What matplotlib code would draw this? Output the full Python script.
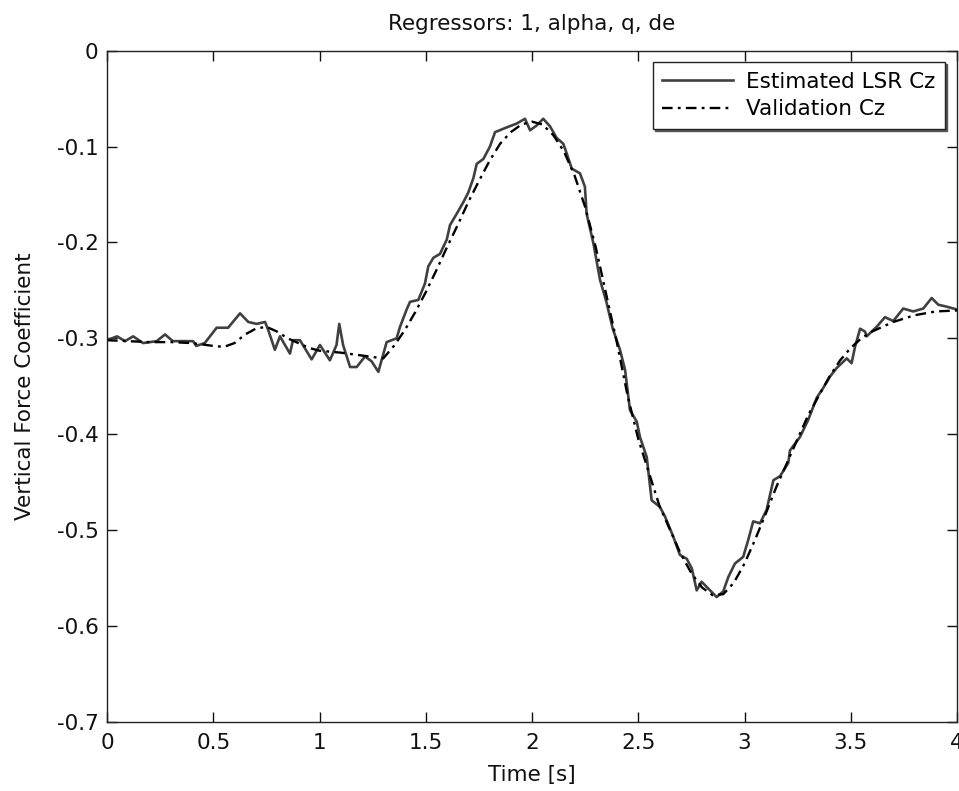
import matplotlib
matplotlib.use("Agg")
import matplotlib.pyplot as plt
import numpy as np

# estimated LSR Cz
est_t = [0.000, 0.047, 0.085, 0.123, 0.170, 0.234, 0.273, 0.310, 0.405, 0.420,
         0.460, 0.516, 0.570, 0.626, 0.665, 0.704, 0.744, 0.758, 0.790, 0.814,
         0.861, 0.875, 0.908, 0.963, 1.002, 1.049, 1.080, 1.093, 1.111, 1.144,
         1.175, 1.214, 1.245, 1.277, 1.316, 1.363, 1.379, 1.410, 1.426, 1.465,
         1.496, 1.512, 1.536, 1.567, 1.599, 1.614, 1.646, 1.677, 1.700, 1.724,
         1.740, 1.771, 1.802, 1.826, 1.881, 1.928, 1.967, 1.991, 2.022, 2.053,
         2.085, 2.116, 2.147, 2.163, 2.187, 2.226, 2.249, 2.257, 2.289, 2.320,
         2.350, 2.380, 2.414, 2.438, 2.461, 2.493, 2.508, 2.540, 2.563, 2.602,
         2.626, 2.665, 2.696, 2.728, 2.752, 2.775, 2.798, 2.838, 2.869, 2.900,
         2.924, 2.955, 2.994, 3.018, 3.041, 3.073, 3.104, 3.136, 3.167, 3.206,
         3.214, 3.261, 3.300, 3.340, 3.370, 3.402, 3.434, 3.481, 3.504, 3.520,
         3.544, 3.567, 3.575, 3.622, 3.661, 3.700, 3.747, 3.794, 3.841, 3.881,
         3.912, 3.951, 4.000]
est_cz = [-0.302, -0.298, -0.303, -0.298, -0.305, -0.303, -0.296, -0.303, -0.303, -0.308,
          -0.305, -0.289, -0.289, -0.274, -0.283, -0.285, -0.283, -0.291, -0.312, -0.298,
          -0.316, -0.302, -0.302, -0.322, -0.307, -0.323, -0.307, -0.285, -0.307, -0.330,
          -0.330, -0.319, -0.324, -0.335, -0.304, -0.300, -0.288, -0.270, -0.262, -0.260,
          -0.243, -0.225, -0.216, -0.212, -0.197, -0.182, -0.170, -0.158, -0.148, -0.133,
          -0.118, -0.113, -0.100, -0.085, -0.080, -0.076, -0.071, -0.083, -0.078, -0.071,
          -0.079, -0.091, -0.097, -0.107, -0.123, -0.128, -0.142, -0.170, -0.201, -0.239,
          -0.262, -0.290, -0.312, -0.333, -0.375, -0.387, -0.403, -0.424, -0.469, -0.476,
          -0.486, -0.507, -0.526, -0.530, -0.540, -0.563, -0.554, -0.563, -0.570, -0.564,
          -0.549, -0.535, -0.528, -0.510, -0.491, -0.493, -0.479, -0.448, -0.444, -0.430,
          -0.417, -0.403, -0.385, -0.362, -0.352, -0.340, -0.331, -0.321, -0.326, -0.309,
          -0.290, -0.293, -0.298, -0.288, -0.278, -0.282, -0.269, -0.272, -0.269, -0.258,
          -0.265, -0.267, -0.270]

# validation Cz
val_t = [0.0, 0.1, 0.2, 0.3, 0.4, 0.5, 0.55, 0.6, 0.65, 0.7, 0.75, 0.8, 0.85,
         0.9, 0.95, 1.0, 1.1, 1.2, 1.3, 1.35, 1.4, 1.45, 1.5, 1.55, 1.6, 1.65,
         1.7, 1.75, 1.8, 1.85, 1.9, 1.95, 2.0, 2.05, 2.1, 2.15, 2.2, 2.25, 2.3,
         2.35, 2.4, 2.45, 2.5, 2.55, 2.6, 2.65, 2.7, 2.75, 2.8, 2.85, 2.9, 2.95,
         3.0, 3.05, 3.1, 3.15, 3.2, 3.25, 3.3, 3.35, 3.4, 3.45, 3.5, 3.55, 3.6,
         3.7, 3.8, 3.9, 4.0]
val_cz = [-0.302, -0.303, -0.304, -0.304, -0.305, -0.308, -0.309, -0.305, -0.296,
          -0.290, -0.288, -0.293, -0.300, -0.305, -0.310, -0.313, -0.315, -0.318,
          -0.321, -0.308, -0.292, -0.273, -0.252, -0.229, -0.205, -0.182, -0.158,
          -0.136, -0.115, -0.097, -0.085, -0.077, -0.074, -0.077, -0.088, -0.105,
          -0.130, -0.163, -0.205, -0.255, -0.305, -0.360, -0.405, -0.440, -0.475,
          -0.500, -0.525, -0.545, -0.560, -0.568, -0.567, -0.555, -0.535, -0.510,
          -0.483, -0.455, -0.430, -0.405, -0.380, -0.360, -0.340, -0.323, -0.310,
          -0.300, -0.293, -0.283, -0.276, -0.272, -0.271]

x_ticks = [0, 0.5, 1, 1.5, 2, 2.5, 3, 3.5, 4]
x_labels = ["0", "0.5", "1", "1.5", "2", "2.5", "3", "3.5", "4"]
y_ticks = [0, -0.1, -0.2, -0.3, -0.4, -0.5, -0.6, -0.7]
y_labels = ["0", "-0.1", "-0.2", "-0.3", "-0.4", "-0.5", "-0.6", "-0.7"]

fontsize = 15.5
plt.rcParams["font.family"] = ["DejaVu Sans"]
plt.rcParams["font.size"] = fontsize

fig = plt.figure(figsize=(9.59, 7.91), dpi=100)
ax = fig.add_axes([107 / 959, 1 - 721.7 / 791, 850 / 959, 671 / 791])

ax.plot(est_t, est_cz, "-", color="#404040", linewidth=1.9, label="Estimated LSR Cz")
ax.plot(val_t, val_cz, color="black", linewidth=1.7, dashes=(4.5, 2.2, 1.2, 2.2),
        label="Validation Cz")

ax.set_xlim(0, 4)
ax.set_ylim(-0.7, 0)
ax.set_xticks(x_ticks, x_labels)
ax.set_yticks(y_ticks, y_labels)
ax.tick_params(direction="in", length=7, width=1, top=True, right=True,
               labelsize=fontsize, colors="#111111")
ax.tick_params(axis="x", pad=8)
ax.tick_params(axis="y", pad=6)
for spine in ax.spines.values():
    spine.set_linewidth(1)
    spine.set_color("#222222")

ax.set_xlabel("Time [s]", labelpad=9, color="#111111")
ax.set_ylabel("Vertical Force Coefficient", labelpad=16, color="#111111")
ax.set_title("Regressors: 1, alpha, q, de", pad=15, fontsize=fontsize, color="#111111")

leg = ax.legend(loc="upper right", bbox_to_anchor=(0.986, 0.983), borderaxespad=0,
                fancybox=False, frameon=True, fontsize=fontsize, handlelength=3.3,
                handletextpad=0.6, borderpad=0.45, labelspacing=0.35,
                shadow={"ox": 1.5, "oy": -1.5, "color": "#555555", "alpha": 1})
leg.get_frame().set_edgecolor("#222222")
leg.get_frame().set_linewidth(1)

fig.savefig("out.png", dpi=100)
